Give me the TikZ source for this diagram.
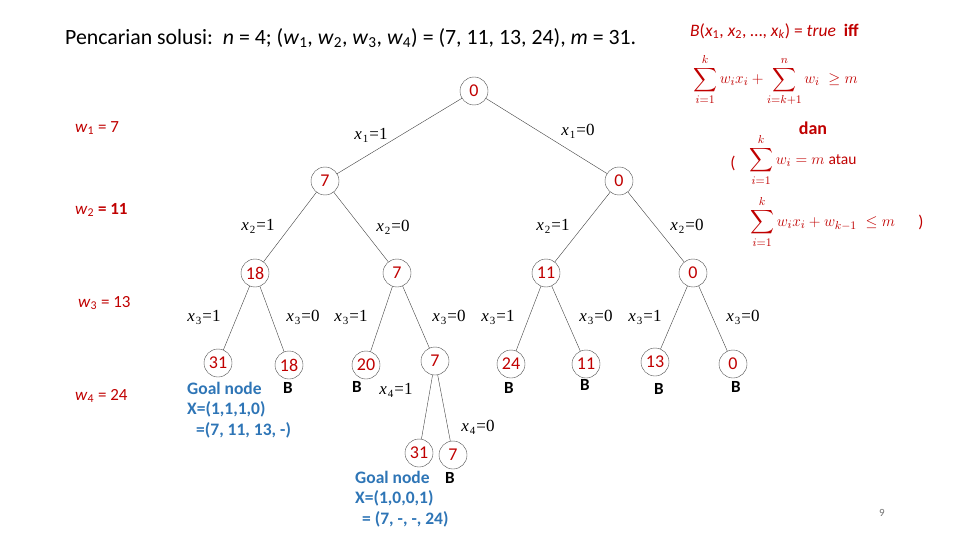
\documentclass[tikz,border=0pt]{standalone}
\usepackage{amsmath,amssymb}
\usepackage{graphicx}
\usepackage{fontspec}
\setmainfont{Carlito}
\newfontfamily\tmsfont{Liberation Serif}
\usepackage{xcolor}
\usepackage{tikz}
\usetikzlibrary{positioning}
\definecolor{slred}{HTML}{C00000}
\definecolor{slblue}{HTML}{2E75B6}
\tikzset{
  valnode/.style={circle,draw=black!70,thin,minimum size=28pt,inner sep=0pt,text=slred,font=\fontsize{18}{20}\selectfont},
  treeedge/.style={draw=black!75,thin},
  edgelab/.style={font=\fontsize{17}{19}\selectfont\tmsfont,inner sep=1pt},
  bmark/.style={font=\fontsize{17}{19}\selectfont\bfseries,inner sep=0pt},
  goaltxt/.style={text=slblue,font=\fontsize{17.5}{20.5}\selectfont\bfseries,align=left,inner sep=0pt,anchor=north west},
  wlab/.style={text=slred,font=\fontsize{17}{19}\selectfont,anchor=west,inner sep=0pt},
  condtxt/.style={text=slred,font=\fontsize{13}{15}\selectfont,inner sep=0pt},
}
\newcommand{\xeq}[2]{\textit{x}\kern1pt\raisebox{-3pt}{\fontsize{11}{11}\selectfont #1}\kern1pt=#2}
\newcommand{\bigmath}[1]{\scalebox{1.28}{$\displaystyle #1$}}

\begin{document}
\begin{tikzpicture}[x=1pt,y=-1pt]
  \useasboundingbox (0,0) rectangle (960,540);
  % title and weights
  \node[anchor=west,inner sep=0pt,font=\fontsize{21.8}{24}\selectfont] (title) at (65,38)
    {Pencarian solusi:\ \ \textit{n} = 4; (\textit{w}\textsubscript{1}, \textit{w}\textsubscript{2}, \textit{w}\textsubscript{3}, \textit{w}\textsubscript{4}) = (7, 11, 13, 24), \textit{m} = 31.};
  \node[wlab] (w1) at (75,128) {\textit{w}\textsubscript{1} = 7};
  \node[wlab] (w2) at (75,210) {\textit{w}\textsubscript{2} \textbf{= 11}};
  \node[wlab] (w3) at (78,303) {\textit{w}\textsubscript{3} = 13};
  \node[wlab] (w4) at (75,396) {\textit{w}\textsubscript{4} = 24};

  % bounding condition
  \node[condtxt,anchor=west,font=\fontsize{17.5}{19}\selectfont] (bdef) at (690,31)
    {\textit{B}(\textit{x}\textsubscript{1}, \textit{x}\textsubscript{2}, \dots, \textit{x}\textsubscript{\textit{k}}) = \textit{true}\ \ \textbf{iff}};
  \node[condtxt,anchor=west] (cond1) at (693,80)
    {\bigmath{\sum_{i=1}^{k} w_i x_i + \sum_{i=k+1}^{n} w_i \;\geq m}};
  \node[condtxt,font=\fontsize{18}{20}\selectfont\bfseries] (dan) at (813,128) {dan};
  \node[condtxt,font=\fontsize{17}{19}\selectfont] (lpar) at (733,163) {(};
  \node[condtxt,anchor=west] (cond2) at (749,160)
    {\bigmath{\sum_{i=1}^{k} w_i = m}};
  \node[condtxt,anchor=west,font=\fontsize{15.5}{17}\selectfont] (atau) at (cond2.east) {\ atau};
  \node[condtxt,anchor=west] (cond3) at (750,222)
    {\bigmath{\sum_{i=1}^{k} w_i x_i + w_{k-1}\;\leq m}};
  \node[condtxt,font=\fontsize{17}{19}\selectfont] (rpar) at (921,222) {)};

  % state space tree
  \node[valnode] (r) at (474,91) {0};
  \node[valnode] (a1) at (325,181) {7};
  \node[valnode] (a0) at (619,181) {0};
  \node[valnode] (b11) at (255,273) {18};
  \node[valnode] (b10) at (397,273) {7};
  \node[valnode] (b01) at (546,273) {11};
  \node[valnode] (b00) at (693,273) {0};
  \node[valnode] (c111) at (218,363) {31};
  \node[valnode] (c110) at (289,365) {18};
  \node[valnode] (c101) at (366,365) {20};
  \node[valnode] (c100) at (435,361) {7};
  \node[valnode] (c011) at (511,364) {24};
  \node[valnode] (c010) at (586,364) {11};
  \node[valnode] (c001) at (655,362) {13};
  \node[valnode] (c000) at (733,364) {0};
  \node[valnode] (d1) at (419,453) {31};
  \node[valnode] (d0) at (453,455) {7};

  \draw[treeedge] (r) -- (a1);
  \draw[treeedge] (r) -- (a0);
  \draw[treeedge] (a1) -- (b11);
  \draw[treeedge] (a1) -- (b10);
  \draw[treeedge] (a0) -- (b01);
  \draw[treeedge] (a0) -- (b00);
  \draw[treeedge] (b11) -- (c111);
  \draw[treeedge] (b11) -- (c110);
  \draw[treeedge] (b10) -- (c101);
  \draw[treeedge] (b10) -- (c100);
  \draw[treeedge] (b01) -- (c011);
  \draw[treeedge] (b01) -- (c010);
  \draw[treeedge] (b00) -- (c001);
  \draw[treeedge] (b00) -- (c000);
  \draw[treeedge] (c100) -- (d1);
  \draw[treeedge] (c100) -- (d0);

  % branch labels
  \node[edgelab] (l1a) at (371,135) {\xeq{1}{1}};
  \node[edgelab] (l1b) at (578,131) {\xeq{1}{0}};
  \node[edgelab] (l2a) at (258,226) {\xeq{2}{1}};
  \node[edgelab] (l2b) at (393,227) {\xeq{2}{0}};
  \node[edgelab] (l2c) at (553,226) {\xeq{2}{1}};
  \node[edgelab] (l2d) at (687,226) {\xeq{2}{0}};
  \node[edgelab] (l3a) at (204,317) {\xeq{3}{1}};
  \node[edgelab] (l3b) at (303,317) {\xeq{3}{0}};
  \node[edgelab] (l3c) at (351,317) {\xeq{3}{1}};
  \node[edgelab] (l3d) at (449,317) {\xeq{3}{0}};
  \node[edgelab] (l3e) at (498,317) {\xeq{3}{1}};
  \node[edgelab] (l3f) at (596,317) {\xeq{3}{0}};
  \node[edgelab] (l3g) at (645,317) {\xeq{3}{1}};
  \node[edgelab] (l3h) at (743,317) {\xeq{3}{0}};
  \node[edgelab] (l4a) at (396,390) {\xeq{4}{1}};
  \node[edgelab] (l4b) at (478,427) {\xeq{4}{0}};

  % bounded nodes
  \node[bmark] (bm1) at (288,388) {B};
  \node[bmark] (bm2) at (357,387) {B};
  \node[bmark] (bm3) at (509,388) {B};
  \node[bmark] (bm4) at (585,385) {B};
  \node[bmark] (bm5) at (659,389) {B};
  \node[bmark] (bm6) at (736,387) {B};
  \node[bmark] (bm7) at (450,478) {B};

  % goal nodes
  \node[goaltxt] (goal1) at (187,382) {Goal node\\X=(1,1,1,0)\\\hspace*{9pt}=(7, 11, 13, -)};
  \node[goaltxt] (goal2) at (355,471) {Goal node\\X=(1,0,0,1)\\\hspace*{7pt}= (7, -, -, 24)};

  \node[inner sep=0pt,text=black!55,font=\fontsize{11}{13}\selectfont] (pgno) at (882,513) {9};
\end{tikzpicture}
\end{document}
